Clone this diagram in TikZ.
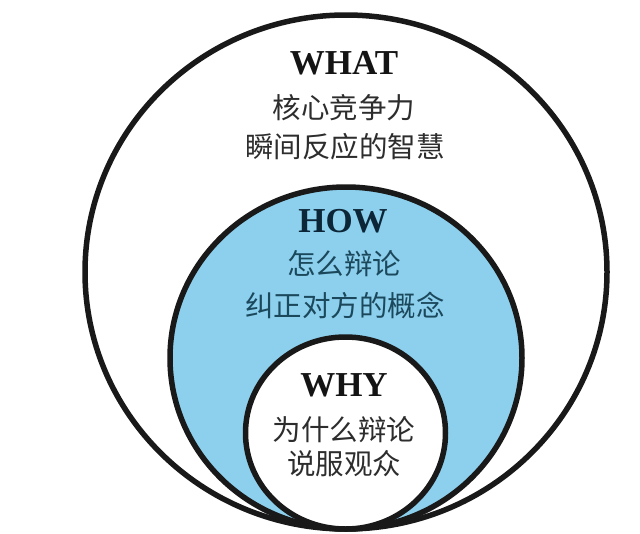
\documentclass[tikz,border=0pt]{standalone}
\usepackage{fontspec}
\setmainfont{Liberation Serif}
\newfontfamily\cjk{Noto Sans CJK SC}
\definecolor{howblue}{RGB}{140,208,238}
\definecolor{cjkgray}{RGB}{45,45,45}
\definecolor{hownavy}{RGB}{12,38,56}
\definecolor{howteal}{RGB}{28,72,92}
\begin{document}
\begin{tikzpicture}[x=1pt,y=-1pt,
  ring/.style={line width=5.5pt,draw=black!90},
  head/.style={inner sep=0pt,font=\fontsize{35}{35}\selectfont\bfseries},
  zh/.style={inner sep=0pt,font=\fontsize{28.5}{30}\selectfont\cjk}]
\useasboundingbox[fill=white] (0,0) rectangle (640,533);
% circles
\draw[ring,fill=white] (346,272) ellipse [x radius=261,y radius=257];
\draw[ring,fill=howblue] (346,358) ellipse [x radius=176,y radius=171];
\draw[ring,fill=white] (345.5,433) ellipse [x radius=100,y radius=96];
% texts
\node[head,text=black!92] (what) at (344,63) {WHAT};
\node[zh,text=cjkgray] (what1) at (344,108) {核心竞争力};
\node[zh,text=cjkgray] (what2) at (345,147) {瞬间反应的智慧};
\node[head,text=hownavy] (how) at (343,221) {HOW};
\node[zh,text=howteal] (how1) at (344,264) {怎么辩论};
\node[zh,text=howteal] (how2) at (345,305) {纠正对方的概念};
\node[head,text=black!92] (why) at (344,385) {WHY};
\node[zh,text=cjkgray] (why1) at (344,430) {为什么辩论};
\node[zh,text=cjkgray] (why2) at (344,464) {说服观众};
\end{tikzpicture}
\end{document}
